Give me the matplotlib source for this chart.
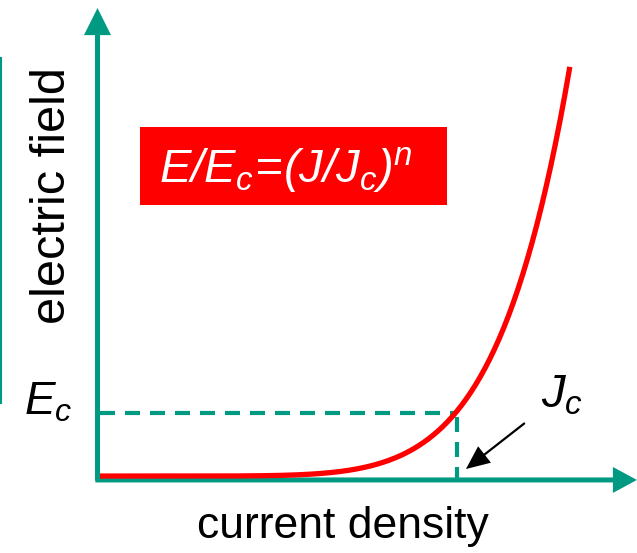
import numpy as np
import matplotlib
matplotlib.use("Agg")
import matplotlib.pyplot as plt
from matplotlib.patches import Rectangle

plt.rcParams['font.family'] = ['Liberation Sans', 'DejaVu Sans']
plt.rcParams['mathtext.fontset'] = 'custom'
plt.rcParams['mathtext.it'] = 'Liberation Sans:italic'
plt.rcParams['mathtext.rm'] = 'Liberation Sans:italic'

# power law E/Ec = (J/Jc)^n
Jc = 1.0
Ec = 1.0
n_index = 6.7
J_end = 1.316
n_pts = 300

teal = '#009a82'
red = '#ff0000'

J = np.linspace(0, J_end, n_pts)
E = Ec * (J / Jc) ** n_index

fig = plt.figure(figsize=(6.37, 5.53), dpi=100)
ax = fig.add_axes([0, 0, 1, 1])
ax.set_xlim(-0.2801, 1.5042)
ax.set_ylim(-1.1538, 7.3538)
ax.axis('off')

# axes with arrow heads
x0, y0 = -0.007, -0.03
ax.annotate('', xy=(x0, 7.23), xytext=(x0, y0 - 0.01),
            arrowprops=dict(facecolor=teal, edgecolor='none', width=3.6,
                            headwidth=19.5, headlength=19.5, shrink=0))
ax.annotate('', xy=(1.504, y0), xytext=(x0 - 0.006, y0),
            arrowprops=dict(facecolor=teal, edgecolor='none', width=3.6,
                            headwidth=18.7, headlength=17.3, shrink=0))

# dashed guides at Jc, Ec
ax.plot([0, Jc], [Ec, Ec], color=teal, lw=3, linestyle=(0, (3.6, 2.4)))
ax.plot([Jc, Jc], [-0.06, Ec], color=teal, lw=3, linestyle=(0, (3.6, 2.4)))

# curve
ax.plot(J, E + 0.03, color=red, lw=3.8, solid_capstyle='butt', zorder=5)

# thin line at the left edge
ax.plot([-0.277, -0.277], [1.154, 6.46], color=teal, lw=1.5)

# formula box
ax.add_patch(Rectangle((0.112, 4.2), 0.86, 1.2, facecolor=red, edgecolor='none'))
ax.text(0.52, 4.55, r'$E/E_c\!=\!(J/J_c)^n$', color='white', fontsize=34,
        ha='center', va='baseline')

# labels
ax.text(-0.132, 4.34, 'electric field', fontsize=35, rotation=90,
        ha='center', va='center')
ax.text(0.681, -0.75, 'current density', fontsize=32, ha='center', va='center')
ax.text(-0.146, 0.97, r'$E_c$', fontsize=33, ha='center', va='baseline')
ax.text(1.293, 1.077, r'$J_c$', fontsize=34, ha='center', va='baseline')

ax.annotate('', xy=(1.025, 0.138), xytext=(1.19, 0.846),
            arrowprops=dict(facecolor='black', edgecolor='none', width=1.6,
                            headwidth=15, headlength=17, shrink=0))

fig.savefig('out.png', dpi=100)
